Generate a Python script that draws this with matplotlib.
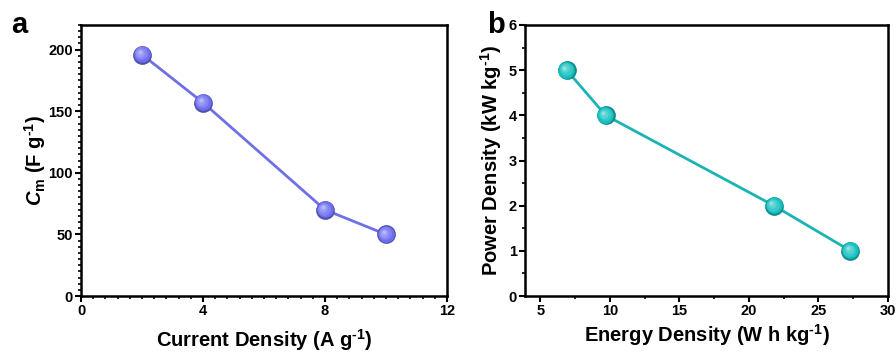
import matplotlib
matplotlib.use("Agg")
import matplotlib.pyplot as plt
import matplotlib.transforms as mtransforms
from matplotlib.ticker import MultipleLocator
import matplotlib.colors as mcolors
import numpy as np

# Data
current_density = [2, 4, 8, 10]
capacitance = [196, 157, 70, 50]
energy_density = [6.9, 9.7, 21.8, 27.3]
power_density = [5, 4, 2, 1]

plt.rcParams['font.family'] = ['Liberation Sans', 'DejaVu Sans']
plt.rcParams['font.weight'] = 'bold'
plt.rcParams['mathtext.fontset'] = 'custom'
plt.rcParams['mathtext.rm'] = 'Liberation Sans:bold'
plt.rcParams['mathtext.it'] = 'Liberation Sans:bold:italic'
plt.rcParams['mathtext.bf'] = 'Liberation Sans:bold'

fig = plt.figure(figsize=(8.96, 3.52), dpi=100)
axA = fig.add_axes([81/896, 56/352, 366/896, 271/352])
axB = fig.add_axes([525/896, 56/352, 363/896, 271/352])


def sphere(ax, x, y, base, size=13.5):
    base_rgb = np.array(mcolors.to_rgb(base))
    dark = base_rgb * 0.72
    ax.plot(x, y, 'o', ms=size, mfc=dark, mec='none', zorder=3)
    layers = [(0.88, 0.0, 0.3), (0.68, 0.15, 0.8), (0.45, 0.3, 1.3), (0.22, 0.5, 1.8)]
    for frac, mix, off in layers:
        col = base_rgb * (1 - mix) + np.ones(3) * mix
        col = np.clip(col, 0, 1)
        tr = mtransforms.offset_copy(ax.transData, fig=fig, x=-off, y=off, units='points')
        ax.plot(x, y, 'o', ms=size * frac, mfc=col, mec='none', zorder=4, transform=tr)


def style(ax):
    for s in ax.spines.values():
        s.set_linewidth(1.8)
    ax.tick_params(which='both', direction='out', top=False, right=False,
                   labelsize=10.5, width=1.5, pad=2)
    ax.tick_params(which='major', length=4)
    ax.tick_params(which='minor', length=2.5, width=1.2)
    for lab in ax.get_xticklabels() + ax.get_yticklabels():
        lab.set_fontweight('bold')


LS = 14.5

# Panel a
colA = '#6e6ef0'
axA.plot(current_density, capacitance, '-', color='#7070e6', lw=2, zorder=2)
sphere(axA, current_density, capacitance, colA)
axA.set_xlim(0, 12)
axA.set_ylim(0, 220)
axA.xaxis.set_major_locator(MultipleLocator(4))
axA.xaxis.set_minor_locator(MultipleLocator(0.4))
axA.yaxis.set_major_locator(MultipleLocator(50))
axA.yaxis.set_minor_locator(MultipleLocator(5))
style(axA)
axA.set_xlabel(r'Current Density (A g$^{\text{-}1}$)', fontsize=LS, fontweight='bold', labelpad=6)
axA.set_ylabel(r'$C_{\mathrm{m}}$ (F g$^{\text{-}1}$)', fontsize=LS, fontweight='bold', labelpad=0)
fig.text(11/896, 1 - 33/352, 'a', fontsize=21, fontweight='bold')

# Panel b
colB = '#16c0c0'
axB.plot(energy_density, power_density, '-', color='#1bb3b3', lw=2, zorder=2)
sphere(axB, energy_density, power_density, colB)
axB.set_xlim(3.9, 30)
axB.set_ylim(0, 6)
axB.xaxis.set_major_locator(MultipleLocator(5))
axB.xaxis.set_minor_locator(MultipleLocator(2.5))
axB.yaxis.set_major_locator(MultipleLocator(1))
axB.yaxis.set_minor_locator(MultipleLocator(0.5))
style(axB)
axB.set_xlabel(r'Energy Density (W h kg$^{\text{-}1}$)', fontsize=LS, fontweight='bold', labelpad=3)
axB.set_ylabel(r'Power Density (kW kg$^{\text{-}1}$)', fontsize=LS, fontweight='bold', labelpad=3)
fig.text(487/896, 1 - 33/352, 'b', fontsize=21, fontweight='bold')

fig.savefig('out.png', dpi=100)
